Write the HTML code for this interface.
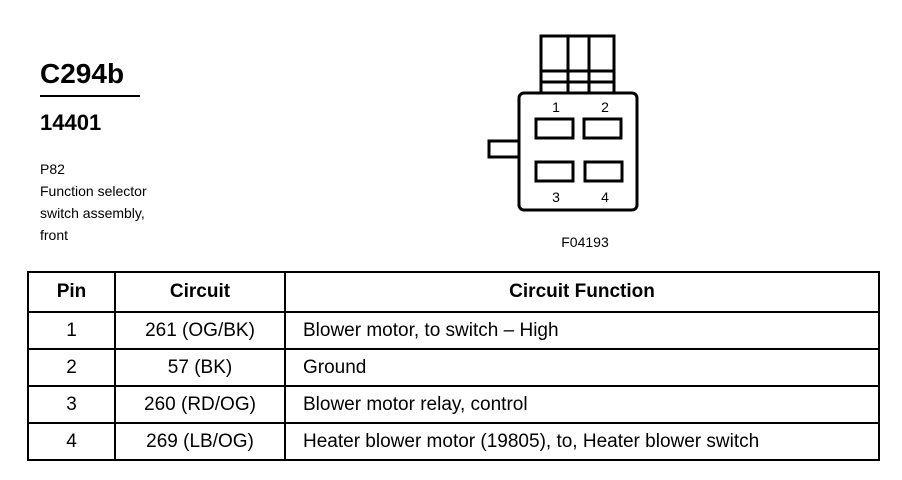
<!DOCTYPE html>
<html><head><style>
body{margin:0;width:902px;height:480px;background:#fff;position:relative;font-family:"Liberation Sans",Arial,sans-serif;color:#000;overflow:hidden}
.a{position:absolute;white-space:nowrap}
table{position:absolute;left:27px;top:271px;border-collapse:collapse;width:853px}
td,th{border:2px solid #000;font-size:19px;height:35px;padding:0;text-align:center}
th{font-weight:bold;height:38px}
td.f{text-align:left;padding-left:17px}
</style></head><body>
<div class="a" style="left:40px;top:58px;font-size:28px;font-weight:bold">C294b</div>
<div class="a" style="left:40px;top:95px;width:100px;border-top:2px solid #000"></div>
<div class="a" style="left:40px;top:110px;font-size:22px;font-weight:bold">14401</div>
<div class="a" style="left:40px;top:158px;font-size:14px;line-height:22px">P82<br>Function selector<br>switch assembly,<br>front</div>
<svg class="a" style="left:0;top:0" width="902" height="270">
<g fill="none" stroke="#000" stroke-width="3">
<rect x="541" y="36" width="73" height="58"/>
<line x1="541" y1="71" x2="614" y2="71"/>
<line x1="541" y1="82" x2="614" y2="82"/>
<line x1="568" y1="36" x2="568" y2="94"/>
<line x1="589" y1="36" x2="589" y2="94"/>
<rect x="489" y="141" width="30" height="16"/>
<rect x="519" y="93" width="118" height="117" rx="5" fill="#fff"/>
<rect x="536" y="119" width="37" height="19"/>
<rect x="584" y="119" width="37" height="19"/>
<rect x="536" y="162" width="37" height="19"/>
<rect x="585" y="162" width="37" height="19"/>
</g>
<g font-size="14" text-anchor="middle" font-family="Liberation Sans">
<text x="556" y="112">1</text><text x="605" y="112">2</text>
<text x="556" y="202">3</text><text x="605" y="202">4</text>
<text x="585" y="247">F04193</text>
</g>
</svg>
<table>
<tr><th style="width:85px">Pin</th><th style="width:168px">Circuit</th><th>Circuit Function</th></tr>
<tr><td>1</td><td>261 (OG/BK)</td><td class="f">Blower motor, to switch – High</td></tr>
<tr><td>2</td><td>57 (BK)</td><td class="f">Ground</td></tr>
<tr><td>3</td><td>260 (RD/OG)</td><td class="f">Blower motor relay, control</td></tr>
<tr><td>4</td><td>269 (LB/OG)</td><td class="f">Heater blower motor (19805), to, Heater blower switch</td></tr>
</table>
</body></html>
